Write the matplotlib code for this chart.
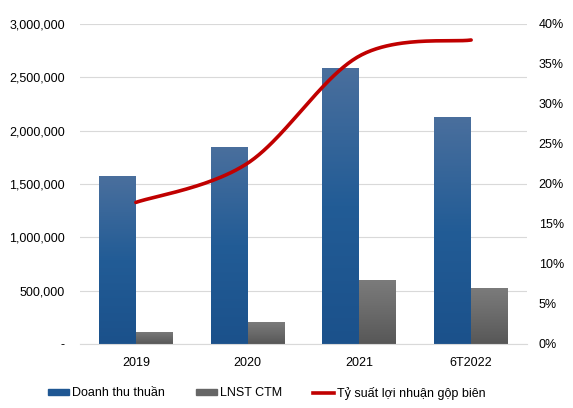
import numpy as np
import matplotlib.pyplot as plt
from matplotlib.colors import LinearSegmentedColormap
from matplotlib.lines import Line2D
from matplotlib.patches import Patch
from matplotlib.ticker import FuncFormatter

plt.rcParams['font.family'] = ['Liberation Sans', 'DejaVu Sans']

# du lieu
nam = ['2019', '2020', '2021', '6T2022']
doanh_thu = [1575000, 1847000, 2590000, 2128000]
lnst = [115000, 206000, 600000, 525000]
ty_suat = [17.7, 22.6, 36.0, 38.0]

x = np.arange(len(nam))
w = 0.33

fig = plt.figure(figsize=(5.73, 4.08), dpi=100)
ax = fig.add_axes([80/573, 1-344/408, 447/573, 320/408])
ax2 = ax.twinx()

xanh = LinearSegmentedColormap.from_list('xanh', ['#1b518b', '#225c96', '#4a6f9d'])
xam = LinearSegmentedColormap.from_list('xam', ['#575757', '#6a6a6a', '#7b7b7b'])
grad = np.linspace(0, 1, 256).reshape(-1, 1)

def ve_cot(ax, left, h, cmap):
    bars = ax.bar(left, h, w, align='edge', color='none', zorder=2)
    for b in bars:
        im = ax.imshow(grad, cmap=cmap, aspect='auto', origin='lower',
                       extent=[b.get_x(), b.get_x() + b.get_width(), 0, b.get_height()],
                       zorder=2)
        im.set_clip_path(b)

ve_cot(ax, x - w, doanh_thu, xanh)
ve_cot(ax, x, lnst, xam)
ax.set_xlim(-0.5, 3.5)
ax.set_ylim(0, 3000000)
ax2.set_ylim(0, 40)

# duong cong muot kieu excel (catmull-rom / bezier)
P = np.column_stack([np.array(x, dtype=float), np.array(ty_suat)])
P = np.vstack([P[0], P, P[-1]])
xs, ys = [], []
t = np.linspace(0, 1, 50)[:, None]
for i in range(1, len(P) - 2):
    p0, p1, p2, p3 = P[i-1], P[i], P[i+1], P[i+2]
    b1 = p1 + (p2 - p0) / 6
    b2 = p2 - (p3 - p1) / 6
    c = (1-t)**3*p1 + 3*(1-t)**2*t*b1 + 3*(1-t)*t**2*b2 + t**3*p2
    xs.extend(c[:, 0])
    ys.extend(c[:, 1])
ax2.plot(xs, ys, color='#c00000', lw=2.6, solid_capstyle='round', zorder=3)

ax.set_yticks(np.arange(0, 3000001, 500000))
ax.yaxis.set_major_formatter(FuncFormatter(lambda v, p: '-' if v == 0 else f'{v:,.0f}'))
ax2.set_yticks(np.arange(0, 41, 5))
ax2.yaxis.set_major_formatter(FuncFormatter(lambda v, p: f'{v:.0f}%'))
ax.set_xticks(x)
ax.set_xticklabels(nam)

ax.grid(axis='y', color='#d9d9d9', lw=0.8)
ax.set_axisbelow(True)
for a in (ax, ax2):
    for s in a.spines.values():
        s.set_visible(False)
    a.tick_params(length=0, labelsize=9, colors='#000000')
ax.spines['bottom'].set_visible(True)
ax.spines['bottom'].set_color('#d9d9d9')
ax.tick_params(axis='y', pad=11)
ax.tick_params(axis='x', pad=9)
ax2.tick_params(axis='y', pad=8.5)

handles = [Patch(color='#1f5793'), Patch(color='#666666'),
           Line2D([], [], color='#c00000', lw=2.6)]
labels = ['Doanh thu thuần', 'LNST CTM', 'Tỷ suất lợi nhuận gộp biên']
fig.legend(handles, labels, loc='center', bbox_to_anchor=(0.466, 1-393/408), ncol=3,
           frameon=False, fontsize=9, handlelength=1.7, handleheight=0.35,
           handletextpad=0.25, columnspacing=2.45)

fig.savefig('out.png', dpi=100)
